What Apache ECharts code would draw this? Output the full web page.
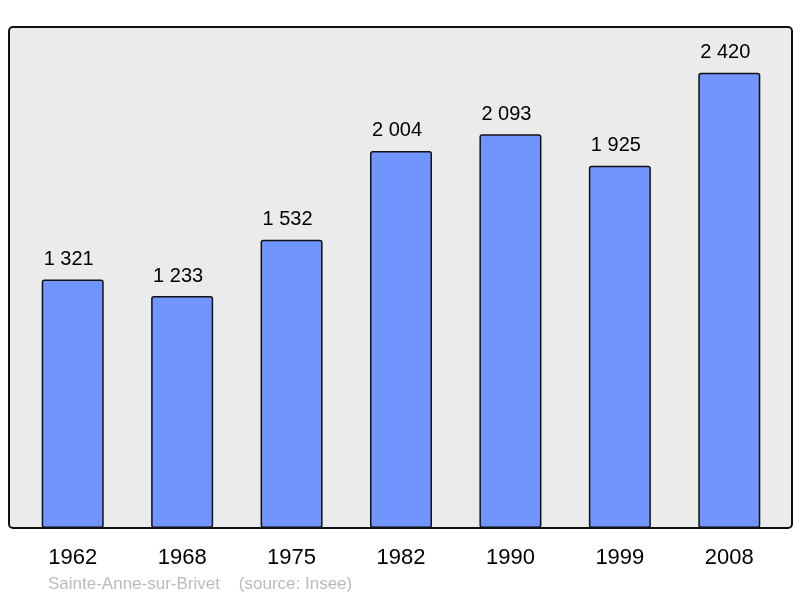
<!DOCTYPE html>
<html lang="fr">
<head>
<meta charset="UTF-8">
<title>Sainte-Anne-sur-Brivet</title>
<script src="https://cdn.jsdelivr.net/npm/echarts@6/dist/echarts.min.js"></script>
<style>
  html, body { margin: 0; padding: 0; background: #fff; }
  #chart { width: 800px; height: 598px; }
</style>
</head>
<body>
<div id="chart"></div>
<script>
// données
var years = ['1962', '1968', '1975', '1982', '1990', '1999', '2008'];
var population = [1321, 1233, 1532, 2004, 2093, 1925, 2420];
var footer = 'Sainte-Anne-sur-Brivet    (source: Insee)';

function fmt(n) {
    return String(n).replace(/\B(?=(\d{3})+(?!\d))/g, ' ');
}

var myChart = echarts.init(document.getElementById('chart'));
var option = {
    animation: false,
    textStyle: { fontFamily: 'Liberation Sans, Arial, sans-serif' },
    graphic: [
        {
            type: 'rect',
            z: -10,
            shape: { x: 9, y: 27, width: 783, height: 501, r: 4 },
            style: { fill: '#ebebeb', stroke: '#111', lineWidth: 2 }
        },
        {
            type: 'text',
            left: 48,
            top: 576,
            style: {
                text: footer,
                fill: '#bbbbbb',
                font: '17px "Liberation Sans", Arial, sans-serif'
            }
        }
    ],
    grid: { left: 18, width: 766, top: 27, bottom: 70 },
    xAxis: {
        type: 'category',
        data: years,
        axisLine: { show: false },
        axisTick: { show: false },
        axisLabel: { color: '#000', fontSize: 22, margin: 19 }
    },
    yAxis: {
        type: 'value',
        min: 0,
        max: 2663,
        show: false,
        splitLine: { show: false }
    },
    series: [{
        type: 'bar',
        data: population,
        barWidth: 62,
        itemStyle: {
            color: '#7095ff',
            borderColor: '#111',
            borderWidth: 1.5,
            borderRadius: 2
        },
        label: {
            show: true,
            position: 'top',
            distance: 10,
            offset: [-4, 0],
            color: '#000',
            fontSize: 20,
            formatter: function (p) { return fmt(p.value); }
        }
    }]
};
myChart.setOption(option);
</script>
</body>
</html>
